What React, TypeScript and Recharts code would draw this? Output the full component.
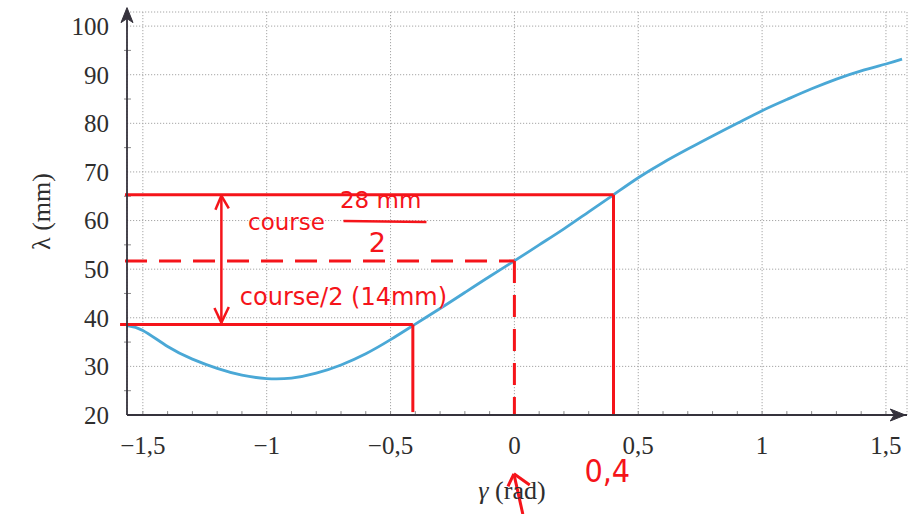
import React from 'react';
import {
  LineChart,
  Line,
  XAxis,
  YAxis,
  CartesianGrid,
  ReferenceLine,
  ReferenceDot,
  Label,
} from 'recharts';

// Curve: λ (mm) as a function of γ (rad)
const gammaValues = [
  -1.564, -1.5, -1.4, -1.3, -1.2, -1.1, -1.0, -0.9, -0.8, -0.7, -0.6, -0.5, -0.4, -0.3,
  -0.2, -0.1, 0, 0.1, 0.2, 0.3, 0.4, 0.5, 0.6, 0.7, 0.8, 0.9, 1.0, 1.1, 1.2, 1.3, 1.4,
  1.5, 1.565,
];
const lambdaValues = [
  38.4, 37.4, 34.1, 31.5, 29.6, 28.2, 27.5, 27.6, 28.6, 30.3, 32.6, 35.5, 38.7, 41.9,
  45.2, 48.5, 51.7, 55.0, 58.3, 61.8, 65.3, 68.8, 71.9, 74.7, 77.4, 80.0, 82.6, 84.9,
  87.1, 89.1, 90.8, 92.2, 93.2,
];

const xTicks = [-1.5, -1, -0.5, 0, 0.5, 1, 1.5];
const yTicks = [20, 30, 40, 50, 60, 70, 80, 90, 100];
const xMinorTicks = [
  -1.5, -1.4, -1.3, -1.2, -1.1, -1.0, -0.9, -0.8, -0.7, -0.6, -0.5, -0.4, -0.3, -0.2, -0.1,
  0, 0.1, 0.2, 0.3, 0.4, 0.5, 0.6, 0.7, 0.8, 0.9, 1.0, 1.1, 1.2, 1.3, 1.4, 1.5,
];
const yMinorTicks = [25, 35, 45, 55, 65, 75, 85, 95];

const xDomain = [-1.564, 1.585];
const yDomain = [20, 102.9];

// Red hand-drawn annotation values
const strokeLevel = 65.3; // λ at γ = 0.4
const midLevel = 51.7; // λ at γ = 0
const lowLevel = 38.6; // λ at γ ≈ -0.4
const gammaHigh = 0.4;
const gammaMid = 0;
const gammaLow = -0.41;
const gammaArrow = -1.183;

const data = gammaValues.map((g, i) => ({ gamma: g, lambda: lambdaValues[i] }));

const RED = '#f5141a';
const AXIS = '#35323c';
const TICK_FONT = 'Liberation Serif, DejaVu Serif, serif';
const HAND_FONT = 'DejaVu Sans, sans-serif';

const fmt = (v: number) => String(v).replace('.', ',').replace('-', '\u2212');

const seg = (x1: number, y1: number, x2: number, y2: number, key: string, dash?: string, w = 3) => (
  <ReferenceLine
    key={key}
    segment={[
      { x: x1, y: y1 },
      { x: x2, y: y2 },
    ]}
    stroke={RED}
    strokeWidth={w}
    strokeDasharray={dash}
    ifOverflow="visible"
  />
);

const handText = (
  x: number,
  y: number,
  value: string,
  key: string,
  size = 22,
  family = HAND_FONT,
) => (
  <ReferenceDot
    key={key}
    x={x}
    y={y}
    r={0}
    fill="none"
    stroke="none"
    ifOverflow="visible"
    label={{
      value,
      position: 'center',
      fill: RED,
      fontSize: size,
      fontFamily: family,
    }}
  />
);

export default function App() {
  return (
    <div style={{ position: 'absolute', left: 0, top: 0, background: '#fff' }}>
      <LineChart
        width={917}
        height={514}
        data={data}
        margin={{ top: 12, right: 10, bottom: 0, left: 0 }}
      >
        <CartesianGrid stroke="#a6a6a6" strokeDasharray="1.2 1.8" strokeWidth={1} />
        <XAxis
          dataKey="gamma"
          type="number"
          domain={xDomain}
          ticks={xTicks}
          allowDataOverflow
          height={99}
          tickLine={false}
          tickSize={0}
          tickMargin={21}
          tickFormatter={fmt}
          axisLine={{ stroke: AXIS, strokeWidth: 1.8 }}
          tick={{ fill: '#2e2e2e', fontSize: 25, fontFamily: TICK_FONT }}
        >
          <Label
            content={(props: any) => {
              const vb = props.viewBox || { x: 127, y: 415, width: 780 };
              return (
                <text
                  x={vb.x + vb.width / 2 - 5}
                  y={vb.y + 84}
                  textAnchor="middle"
                  fill="#2e2e2e"
                  fontSize={26}
                  fontFamily={TICK_FONT}
                >
                  <tspan fontStyle="italic">γ</tspan>
                  <tspan> (rad)</tspan>
                </text>
              );
            }}
          />
        </XAxis>
        <YAxis
          type="number"
          domain={yDomain}
          ticks={yTicks}
          allowDataOverflow
          width={127}
          tickLine={false}
          tickSize={0}
          tickMargin={18}
          tickFormatter={fmt}
          axisLine={{ stroke: AXIS, strokeWidth: 1.8 }}
          tick={{ fill: '#2e2e2e', fontSize: 25, fontFamily: TICK_FONT }}
        >
          <Label
            content={(props: any) => {
              const vb = props.viewBox || { x: 0, y: 12, width: 127, height: 403 };
              const cx = vb.x + 50;
              const cy = vb.y + vb.height / 2 - 2;
              return (
                <text
                  x={cx}
                  y={cy}
                  transform={`rotate(-90 ${cx} ${cy})`}
                  textAnchor="middle"
                  fill="#2e2e2e"
                  fontSize={26}
                  fontFamily={TICK_FONT}
                >
                  λ (mm)
                </text>
              );
            }}
          />
        </YAxis>

        {/* minor ticks */}
        {xMinorTicks.map((v) => (
          <ReferenceLine
            key={`xm${v}`}
            segment={[
              { x: v, y: 20 },
              { x: v, y: 20.8 },
            ]}
            stroke="#888"
            strokeWidth={1}
            ifOverflow="visible"
          />
        ))}
        {yMinorTicks.map((v) => (
          <ReferenceLine
            key={`ym${v}`}
            segment={[
              { x: xDomain[0] - 0.012, y: v },
              { x: xDomain[0] + 0.016, y: v },
            ]}
            stroke="#888"
            strokeWidth={1}
            ifOverflow="visible"
          />
        ))}

        {/* axis arrowheads */}
        <ReferenceDot
          x={xDomain[0]}
          y={103.8}
          r={0}
          ifOverflow="visible"
          shape={(p: any) => (
            <path d={`M${p.cx},${p.cy} l-6,15 l6,-4 l6,4 z`} fill={AXIS} stroke={AXIS} />
          )}
        />
        <ReferenceDot
          x={1.578}
          y={20}
          r={0}
          ifOverflow="visible"
          shape={(p: any) => (
            <path d={`M${p.cx},${p.cy} l-15,-6 l4,6 l-4,6 z`} fill={AXIS} stroke={AXIS} />
          )}
        />

        <Line
          type="natural"
          dataKey="lambda"
          stroke="#4aa8d6"
          strokeWidth={2.8}
          dot={false}
          isAnimationActive={false}
        />

        {/* red annotations */}
        {seg(xDomain[0] - 0.008, strokeLevel, gammaHigh, strokeLevel, 'h1')}
        {seg(gammaHigh, strokeLevel, gammaHigh, 20, 'v1')}
        {seg(xDomain[0] - 0.008, midLevel, gammaMid, midLevel, 'h2', '22 12')}
        {seg(gammaMid, midLevel, gammaMid, 20, 'v2', '22 12')}
        {seg(xDomain[0] - 0.028, lowLevel, gammaLow, lowLevel, 'h3')}
        {seg(gammaLow, lowLevel, gammaLow, 20.6, 'v3')}
        {/* double arrow */}
        {seg(gammaArrow, strokeLevel - 0.2, gammaArrow, lowLevel + 0.4, 'arr', undefined, 2.5)}
        {seg(gammaArrow, strokeLevel - 0.2, gammaArrow - 0.024, strokeLevel - 3.1, 'ah1', undefined, 2.5)}
        {seg(gammaArrow, strokeLevel - 0.2, gammaArrow + 0.03, strokeLevel - 2.8, 'ah2', undefined, 2.5)}
        {seg(gammaArrow, lowLevel + 0.4, gammaArrow - 0.028, lowLevel + 3.4, 'ah3', undefined, 2.5)}
        {seg(gammaArrow, lowLevel + 0.4, gammaArrow + 0.03, lowLevel + 3.6, 'ah4', undefined, 2.5)}
        {/* fraction bar */}
        {seg(-0.69, 59.9, -0.355, 59.7, 'frac', undefined, 2.5)}
        {/* bottom arrow pointing to γ = 0 */}
        {seg(-0.002, 7.9, 0.034, -0.4, 'ba', undefined, 3)}
        {seg(-0.002, 7.9, -0.026, 5.3, 'bh1', undefined, 3)}
        {seg(-0.002, 7.9, 0.062, 5.6, 'bh2', undefined, 3)}

        {handText(-0.92, 59.8, 'course', 't1', 23)}
        {handText(-0.54, 64.3, '28 mm', 't2', 23)}
        {handText(-0.553, 55.6, '2', 't3', 27)}
        {handText(-0.69, 44.4, 'course/2 (14mm)', 't4', 24)}
        {handText(0.375, 8.5, '0,4', 't5', 32, 'DejaVu Sans Condensed, DejaVu Sans, sans-serif')}
      </LineChart>
    </div>
  );
}
